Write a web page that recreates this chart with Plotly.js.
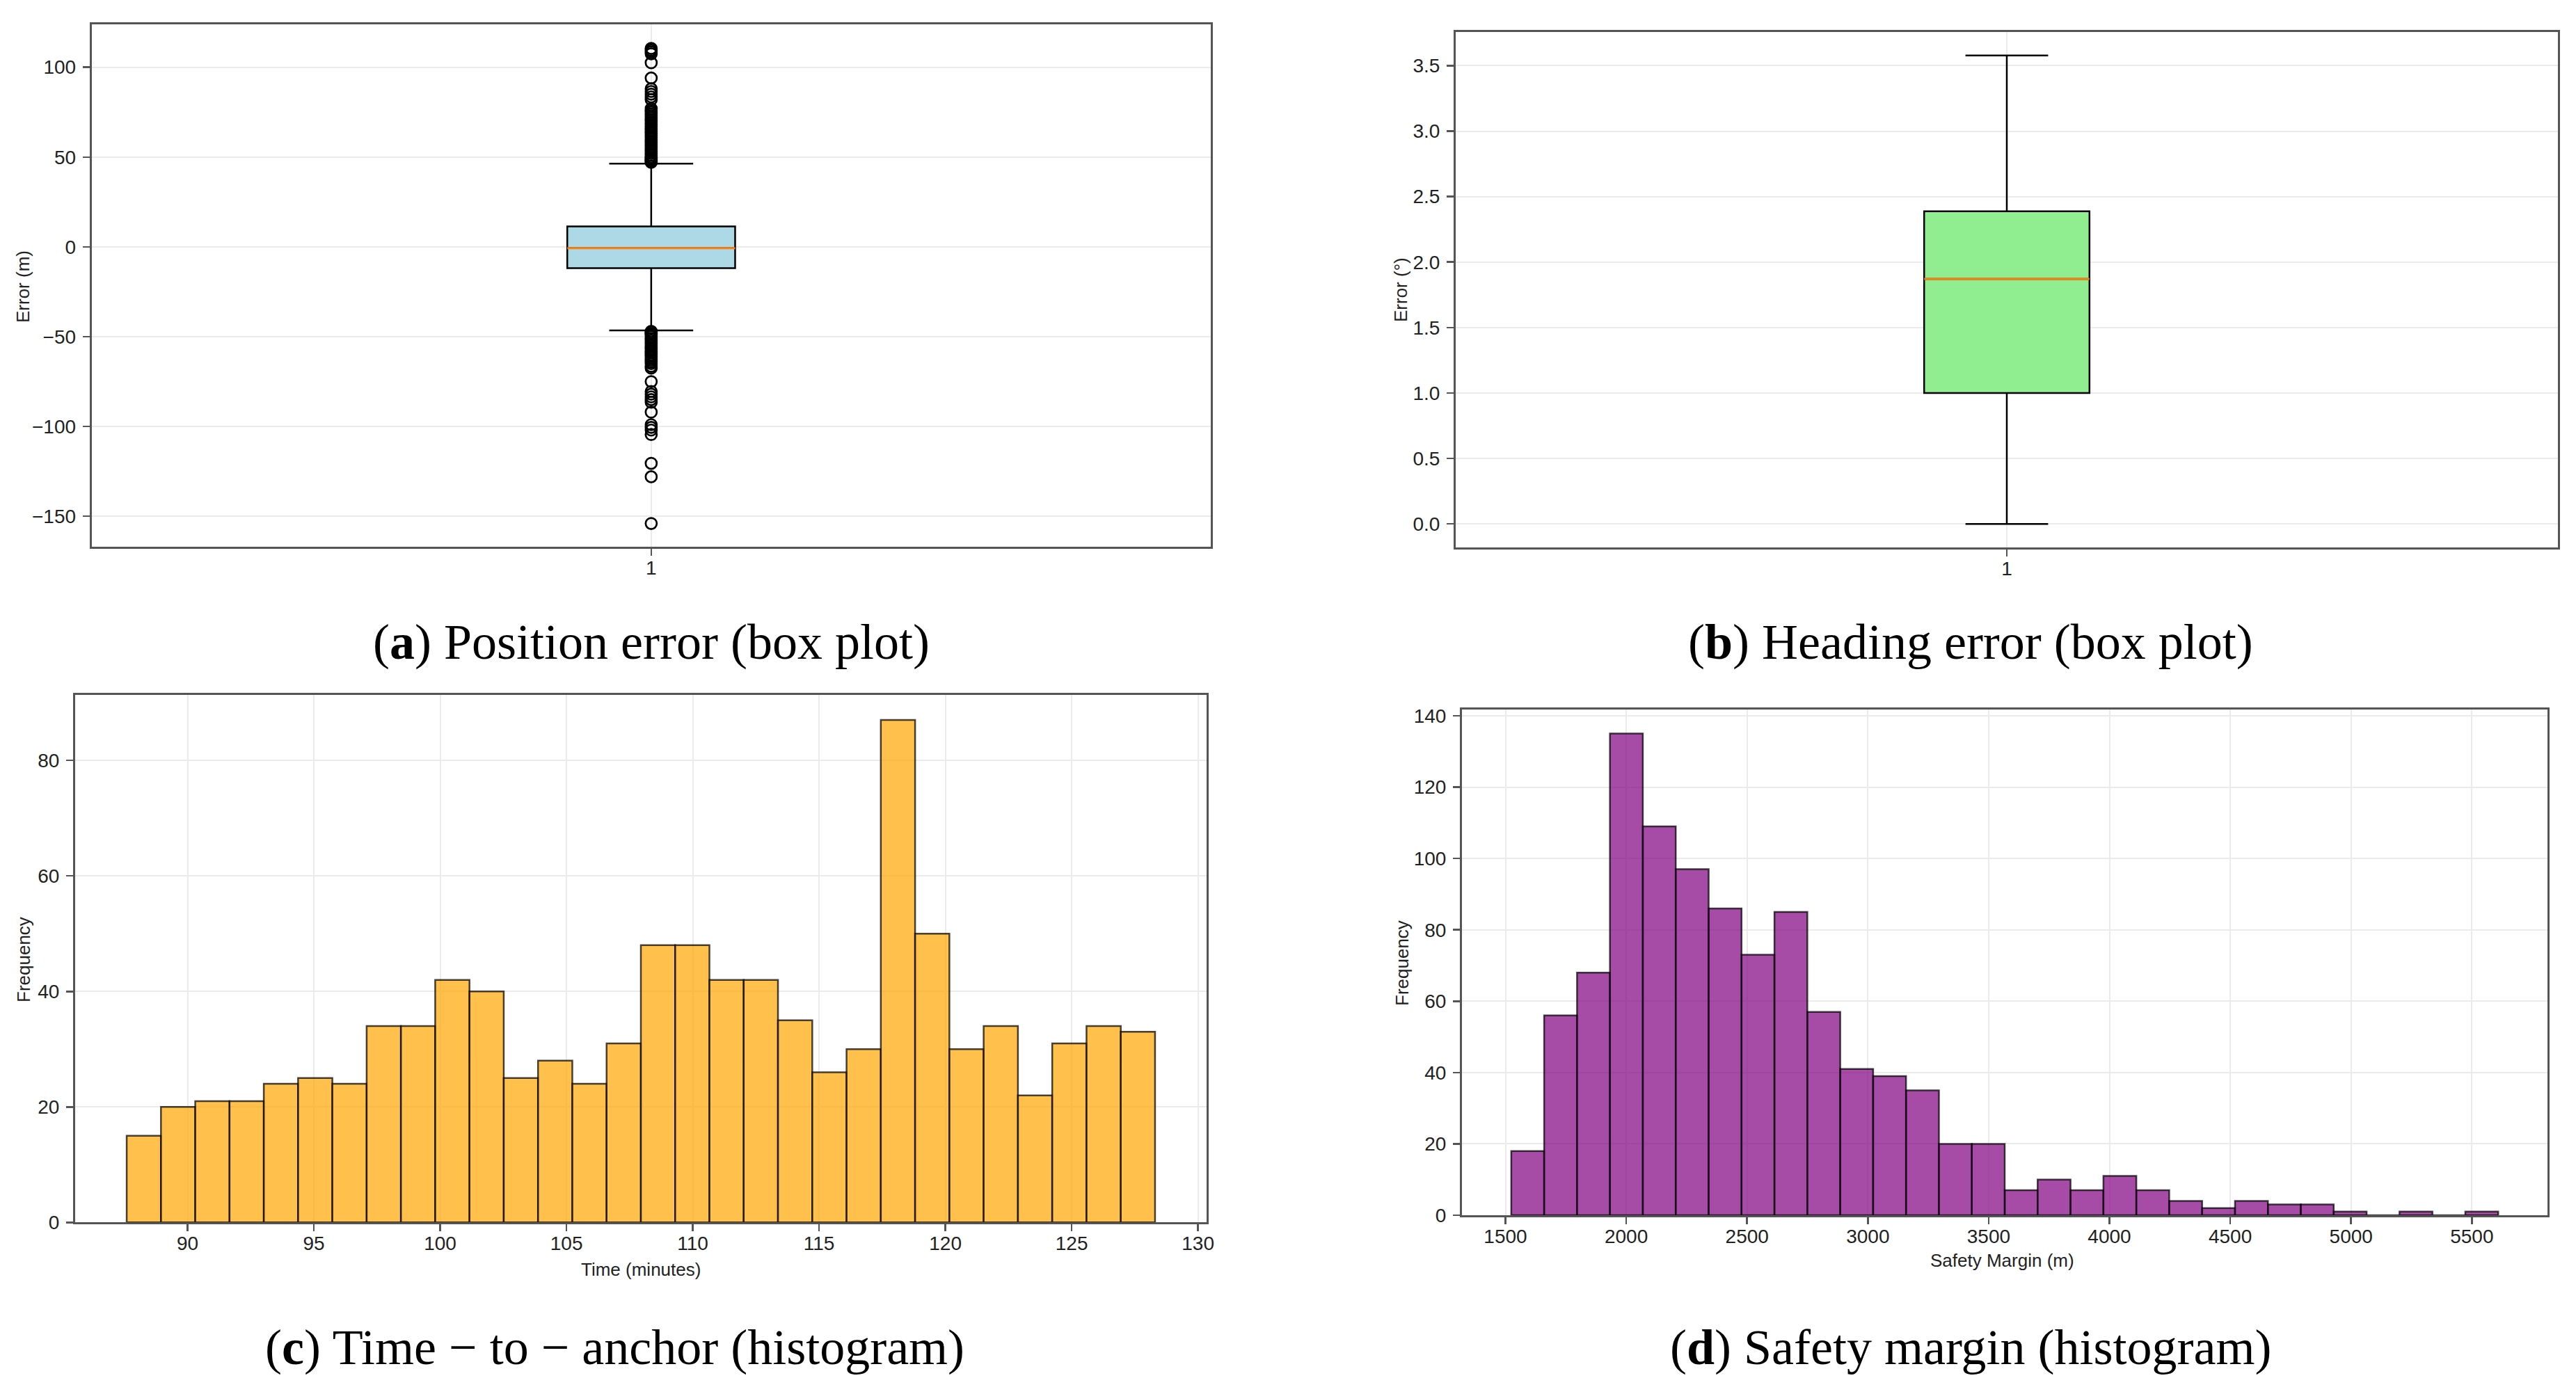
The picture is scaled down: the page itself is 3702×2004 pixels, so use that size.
<!DOCTYPE html>
<html>
<head>
<meta charset="utf-8">
<script src="https://cdn.plot.ly/plotly-3.0.1.min.js"></script>
<style>
html, body { margin: 0; padding: 0; background: #ffffff; }
#chart { width: 3702px; height: 2004px; }
</style>
</head>
<body>
<div id="chart"></div>
<script>
// ---------------- DATA ----------------
// (a) Position error box plot: [lower whisker, Q1, median, Q3, upper whisker]
const positionBox = [-46.5, -11.9, -0.7, 11.4, 46.3];
const positionOutliers = [
  110.5, 109.5, 108.5, 107.5, 102.5, 94, 88, 86.5, 85, 83.5, 82,
  77, 76, 75, 74, 73, 72, 71, 70, 69, 68, 67, 66, 65, 64, 63, 62, 61, 60,
  59, 58, 57, 56, 55, 54, 53, 52, 51, 50, 49.5, 49, 48.5, 48, 47.5, 47,
  -47, -47.5, -48, -48.5, -49, -50, -51, -52, -53, -54, -55, -56, -57, -58,
  -59, -60, -61, -62, -63, -64, -65, -66.5, -67.5, -75, -80.5, -82, -83.5,
  -85, -86.5, -92, -99, -100.5, -102, -104.5, -120.5, -128, -154
];
const positionTicks = [-150, -100, -50, 0, 50, 100];

// (b) Heading error box plot: [lower whisker, Q1, median, Q3, upper whisker]
const headingBox = [0.0, 1.0, 1.871, 2.388, 3.578];
const headingTicks = [0.0, 0.5, 1.0, 1.5, 2.0, 2.5, 3.0, 3.5];

const boxCategory = [1];
const boxTickLabels = ['1'];

// (c) Time-to-anchor histogram (30 bins)
const timeBinStart = 87.59;
const timeBinWidth = 1.357;
const timeCounts = [15, 20, 21, 21, 24, 25, 24, 34, 34, 42, 40, 25, 28, 24, 31,
                    48, 48, 42, 42, 35, 26, 30, 87, 50, 30, 34, 22, 31, 34, 33];
const timeXTicks = [90, 95, 100, 105, 110, 115, 120, 125, 130];
const timeYTicks = [0, 20, 40, 60, 80];

// (d) Safety margin histogram (30 bins)
const safetyBinStart = 1524;
const safetyBinWidth = 136.17;
const safetyCounts = [18, 56, 68, 135, 109, 97, 86, 73, 85, 57, 41, 39, 35, 20, 20,
                      7, 10, 7, 11, 7, 4, 2, 4, 3, 3, 1, 0, 1, 0, 1];
const safetyXTicks = [1500, 2000, 2500, 3000, 3500, 4000, 4500, 5000, 5500];
const safetyYTicks = [0, 20, 40, 60, 80, 100, 120, 140];

// Texts
const captionLetters = ['a', 'b', 'c', 'd'];
const captionTexts = ['Position error (box plot)', 'Heading error (box plot)',
                      'Time \u2212 to \u2212 anchor (histogram)', 'Safety margin (histogram)'];
const yTitles = ['Error (m)', 'Error (\u00b0)', 'Frequency', 'Frequency'];
const xTitles = ['Time (minutes)', 'Safety Margin (m)'];
const hiddenTitles = ['Distribution of Position Error', 'Distribution of Heading Error',
                      'Distribution of Safety Margin'];

// ---------------- LAYOUT GEOMETRY (pixels) ----------------
const W = 3702, H = 2004;
const pa = {l: 131.7, r: 1740, t: 35.2, b: 786.1};
const pb = {l: 2092, r: 3676, t: 46, b: 786.9};
const pc = {l: 108, r: 1734, t: 999, b: 1757.3};
const pd = {l: 2101, r: 3661, t: 1020, b: 1747};
const domX = p => [p.l / W, p.r / W];
const domY = p => [1 - p.b / H, 1 - p.t / H];

const tickFont = {family: 'Liberation Sans Narrow, Liberation Sans, Arial, sans-serif', size: 28, color: '#222222'};
const titleFont = {family: 'Liberation Sans, Arial, sans-serif', size: 26, color: '#222222'};
const capFont = {family: 'Liberation Serif, Times New Roman, serif', size: 72, color: '#000000'};

function axisStyle(extra) {
  return Object.assign({
    showline: true, linecolor: '#555555', linewidth: 3, mirror: true,
    ticks: 'outside', ticklen: 10, tickwidth: 2.5, tickcolor: '#555555',
    showgrid: true, gridcolor: '#ebebeb', gridwidth: 2,
    zeroline: false, tickfont: tickFont, fixedrange: true
  }, extra);
}
const X_STANDOFF = -7, Y_STANDOFF = 4;

const BOXW = 0.15;

function boxTrace(stats, fill, xa, ya) {
  return {
    type: 'box', xaxis: xa, yaxis: ya, x: boxCategory,
    lowerfence: [stats[0]], q1: [stats[1]], median: [stats[2]], q3: [stats[3]], upperfence: [stats[4]],
    width: BOXW, whiskerwidth: 0.5, fillcolor: fill,
    line: {color: '#000000', width: 2.5}, boxpoints: false, hoverinfo: 'skip', showlegend: false
  };
}
function medianTrace(stats, xa, ya) {
  return {
    type: 'scatter', mode: 'lines', xaxis: xa, yaxis: ya,
    x: [boxCategory[0] - BOXW / 2, boxCategory[0] + BOXW / 2], y: [stats[2], stats[2]],
    line: {color: '#ff7f0e', width: 3}, hoverinfo: 'skip', showlegend: false
  };
}
function histTrace(start, width, counts, fill, xa, ya) {
  return {
    type: 'bar', xaxis: xa, yaxis: ya,
    x: counts.map((c, i) => start + (i + 0.5) * width), y: counts, width: width,
    marker: {color: fill, line: {color: 'rgba(0,0,0,0.72)', width: 2.5}},
    hoverinfo: 'skip', showlegend: false
  };
}

// cropped panel titles: only the bottom slivers of the letters remain visible in the reference
const stubs = [
  {x: 931, base: 25, clip: 20, size: 21, color: '#cfcfcf'},
  {x: 2879, base: 31, clip: 26, size: 26, color: '#b5b5b5'},
  {x: 2878, base: 1006, clip: 1000, size: 31, color: '#555555'}
];

const data = [
  boxTrace(positionBox, '#ADD8E6', 'x', 'y'),
  medianTrace(positionBox, 'x', 'y'),
  {
    type: 'scatter', mode: 'markers', xaxis: 'x', yaxis: 'y',
    x: positionOutliers.map(() => boxCategory[0]), y: positionOutliers,
    marker: {symbol: 'circle-open', size: 16, color: '#000000', line: {width: 2.7, color: '#000000'}},
    hoverinfo: 'skip', showlegend: false
  },
  boxTrace(headingBox, '#90EE90', 'x2', 'y2'),
  medianTrace(headingBox, 'x2', 'y2'),
  histTrace(timeBinStart, timeBinWidth, timeCounts, 'rgba(255,165,0,0.7)', 'x3', 'y3'),
  histTrace(safetyBinStart, safetyBinWidth, safetyCounts, 'rgba(128,0,128,0.7)', 'x4', 'y4')
];

stubs.forEach((s, i) => {
  data.push({
    type: 'scatter', mode: 'text', xaxis: 'x' + (5 + i), yaxis: 'y' + (5 + i),
    x: [s.x], y: [s.base - 0.25 * s.size], text: [hiddenTitles[i]],
    textposition: 'middle center', cliponaxis: false,
    textfont: {family: 'Liberation Sans, Arial, sans-serif', size: s.size, color: s.color},
    hoverinfo: 'skip', showlegend: false
  });
});

const layout = {
  width: W, height: H,
  margin: {l: 0, r: 0, t: 0, b: 0, pad: 0},
  paper_bgcolor: '#ffffff', plot_bgcolor: 'rgba(0,0,0,0)',
  showlegend: false, hovermode: false,
  xaxis: axisStyle({domain: domX(pa), anchor: 'y', range: [0.5, 1.5], tickvals: boxCategory, ticktext: boxTickLabels, ticklabelstandoff: X_STANDOFF}),
  yaxis: axisStyle({domain: domY(pa), anchor: 'x', range: [-167, 123.8], tickvals: positionTicks, ticklabelstandoff: Y_STANDOFF}),
  xaxis2: axisStyle({domain: domX(pb), anchor: 'y2', range: [0.5, 1.5], tickvals: boxCategory, ticktext: boxTickLabels, ticklabelstandoff: X_STANDOFF}),
  yaxis2: axisStyle({domain: domY(pb), anchor: 'x2', range: [-0.179, 3.757], tickvals: headingTicks, tickformat: '.1f', ticklabelstandoff: Y_STANDOFF}),
  xaxis3: axisStyle({domain: domX(pc), anchor: 'y3', range: [85.55, 130.34], tickvals: timeXTicks, ticklabelstandoff: X_STANDOFF}),
  yaxis3: axisStyle({domain: domY(pc), anchor: 'x3', range: [0, 91.35], tickvals: timeYTicks, ticklabelstandoff: Y_STANDOFF}),
  xaxis4: axisStyle({domain: domX(pd), anchor: 'y4', range: [1320, 5813], tickvals: safetyXTicks, ticklabelstandoff: X_STANDOFF}),
  yaxis4: axisStyle({domain: domY(pd), anchor: 'x4', range: [0, 141.75], tickvals: safetyYTicks, ticklabelstandoff: Y_STANDOFF}),
  annotations: [],
  shapes: []
};

stubs.forEach((s, i) => {
  const bottom = s.base + 10;
  layout['xaxis' + (5 + i)] = {domain: [0, 1], range: [0, W], visible: false, anchor: 'y' + (5 + i), fixedrange: true};
  layout['yaxis' + (5 + i)] = {domain: [1 - bottom / H, 1 - s.clip / H], range: [bottom, s.clip],
                               visible: false, anchor: 'x' + (5 + i), fixedrange: true};
  // white band hiding the upper part of the cropped title (as in the reference)
  layout.shapes.push({
    type: 'rect', layer: 'above', xref: 'paper', yref: 'paper',
    x0: (s.x - 280) / W, x1: (s.x + 280) / W,
    y0: 1 - s.clip / H, y1: Math.min(1, 1 - (s.clip - 45) / H),
    fillcolor: '#ffffff', line: {width: 0}
  });
});

// captions
const capPos = [[936, 923], [2832, 923], [883, 1937], [2832, 1937]];
captionLetters.forEach((L, i) => {
  layout.annotations.push({
    xref: 'paper', yref: 'paper', x: capPos[i][0] / W, y: 1 - capPos[i][1] / H,
    xanchor: 'center', yanchor: 'middle', showarrow: false,
    text: '(<b>' + L + '</b>) ' + captionTexts[i], font: capFont
  });
});

// y axis titles (rotated)
const yTitlePos = [[33, 412], [2013, 417], [34, 1380], [2015, 1385]];
yTitles.forEach((t, i) => {
  layout.annotations.push({
    xref: 'paper', yref: 'paper', x: yTitlePos[i][0] / W, y: 1 - yTitlePos[i][1] / H,
    xanchor: 'center', yanchor: 'middle', showarrow: false, textangle: -90,
    text: t, font: titleFont
  });
});

// x axis titles
const xTitlePos = [[921, 1825], [2877, 1812]];
xTitles.forEach((t, i) => {
  layout.annotations.push({
    xref: 'paper', yref: 'paper', x: xTitlePos[i][0] / W, y: 1 - xTitlePos[i][1] / H,
    xanchor: 'center', yanchor: 'middle', showarrow: false,
    text: t, font: titleFont
  });
});

Plotly.newPlot('chart', data, layout, {staticPlot: true, displayModeBar: false});
</script>
</body>
</html>
